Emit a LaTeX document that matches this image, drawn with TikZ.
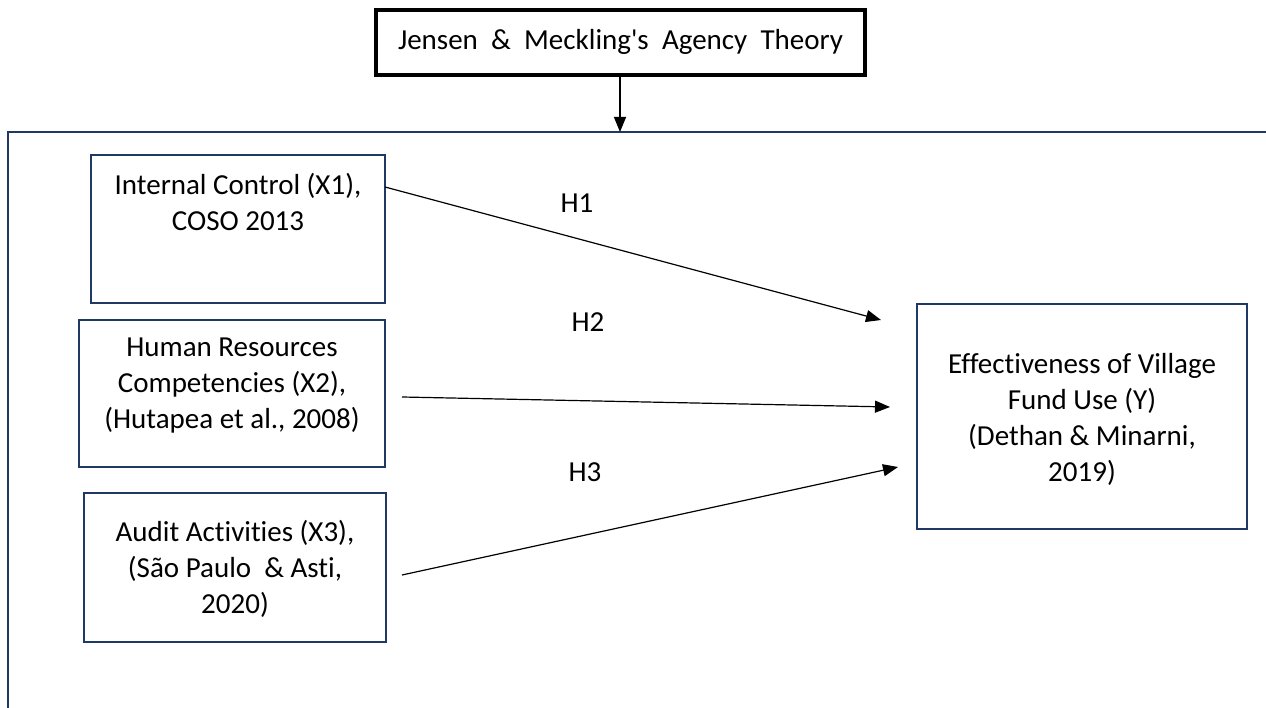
\documentclass[tikz,border=0pt]{standalone}
\usepackage{fontspec}
\setmainfont{Carlito}[Ligatures={NoCommon}]
\usetikzlibrary{arrows.meta}
\definecolor{navy}{HTML}{1F3864}
\tikzset{
  every node/.style={font=\fontsize{29}{36}\selectfont},
  varbox/.style={draw=navy, line width=2.6pt, rectangle, inner sep=0pt},
  txt/.style={align=center, inner sep=0pt},
  conn/.style={line width=1.2pt, -{Triangle[length=15pt,width=12pt]}},
  frame/.style={draw=navy, line width=2.2pt},
}
\begin{document}
\begin{tikzpicture}[x=1pt,y=-1pt]
\useasboundingbox (0,0) rectangle (1266,708);
% outer frame (only top and left edges visible)
\coordinate (fTL) at (8,132);
\coordinate (fTR) at (1270,132);
\coordinate (fBL) at (8,712);
\draw[frame] (fTR) -- (fTL) -- (fBL);
% top box
\node[draw=black, line width=3.5pt, minimum width=489pt, minimum height=65pt, inner sep=0pt] (top) at (620.5,42.5) {};
\node[txt] (toptxt) at (620.5,42) {\makebox[445pt][s]{Jensen \& Meckling\textquotesingle s Agency Theory}};
\coordinate (topin) at (620,132);
\draw[conn] (top.south -| topin) -- (topin);
% X1
\node[varbox, minimum width=294pt, minimum height=148pt] (x1) at (238,229) {};
\node[txt] (x1t) at (238,202) {Internal Control (X1),\\COSO 2013};
% X2
\node[varbox, minimum width=306pt, minimum height=147pt] (x2) at (232,393.5) {};
\node[txt] (x2t) at (232,386) {Human Resources\\Competencies (X2),\\(Hutapea et al., 2008)};
% X3
\node[varbox, minimum width=302pt, minimum height=149pt] (x3) at (235,567.5) {};
\node[txt] (x3t) at (235,569) {Audit Activities (X3),\\(São Paulo\ \ \& Asti,\\2020)};
% Y
\node[varbox, minimum width=330pt, minimum height=225pt] (y) at (1082,416.5) {};
\node[txt] (yt) at (1082,419) {Effectiveness of Village\\Fund Use (Y)\\(Dethan \& Minarni,\\2019)};
% connectors
\coordinate (h1s) at (385,187);
\coordinate (h1e) at (881,320);
\coordinate (h2s) at (402,397);
\coordinate (h2e) at (890,407);
\coordinate (h3s) at (402,575);
\coordinate (h3e) at (898,467);
\draw[conn] (h1s) -- (h1e);
\draw[conn] (h2s) -- (h2e);
\draw[conn] (h3s) -- (h3e);
\node[txt] (h1) at (577,203) {H1};
\node[txt] (h2) at (588,322) {H2};
\node[txt] (h3) at (585,472) {H3};
\end{tikzpicture}
\end{document}
